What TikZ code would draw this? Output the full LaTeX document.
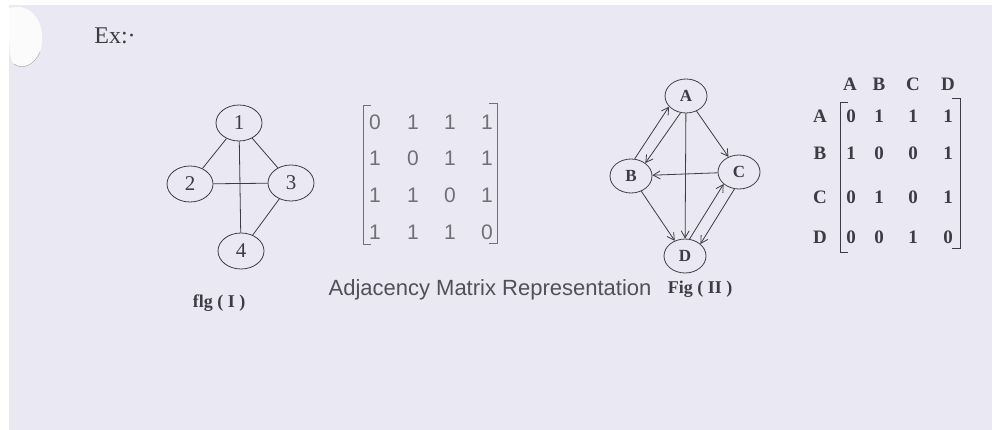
\documentclass[tikz,border=0pt]{standalone}
\usepackage{fontspec}
\setmainfont{Liberation Serif}
\setsansfont{Liberation Sans}
\usetikzlibrary{arrows.meta,shapes.geometric}
\definecolor{paper}{HTML}{EAE8F2}
\definecolor{ink}{HTML}{3C3C44}
\definecolor{grayink}{HTML}{707078}
\tikzset{
  vtx/.style={ellipse,draw=ink,line width=0.8pt,minimum width=46pt,minimum height=36pt,inner sep=0pt,font=\fontsize{21pt}{21pt}\selectfont,text=ink},
  dvtx/.style={ellipse,draw=ink,line width=0.8pt,minimum width=42pt,minimum height=34pt,inner sep=0pt,font=\fontsize{17pt}{17pt}\selectfont\bfseries,text=ink},
  edge/.style={draw=ink,line width=0.8pt},
  arc/.style={draw=ink,line width=0.8pt,-{Straight Barb[length=7pt,width=8pt]}},
  mone/.style={font=\sffamily\fontsize{21pt}{21pt}\selectfont,text=grayink,inner sep=0pt},
  mtwo/.style={font=\fontsize{19pt}{19pt}\selectfont\bfseries,text=ink,inner sep=0pt},
  brk/.style={draw=grayink,line width=0.9pt},
  brk2/.style={draw=ink,line width=0.9pt},
  caption/.style={font=\fontsize{18pt}{18pt}\selectfont\bfseries,text=ink}
}
\begin{document}
\begin{tikzpicture}[x=1pt,y=-1pt]
\useasboundingbox (0,0) rectangle (992,430);
\fill[white] (0,0) rectangle (992,430);
\fill[paper] (9,5) rectangle (992,430);
% white blob at upper left
\fill[white!97!gray] (9,8) .. controls (30,2) and (44,20) .. (42,42) .. controls (40,62) and (28,72) .. (14,64) .. controls (9,60) and (9,40) .. (9,30) -- cycle;
\draw[gray!60,line width=0.6pt] (14,64) .. controls (22,70) and (34,66) .. (40,52);

\node[font=\fontsize{24pt}{24pt}\selectfont,text=ink] (ex) at (115,36) {Ex:·};

% Fig I
\node[vtx] (n1) at (239,123) {1};
\node[vtx] (n2) at (190,184) {2};
\node[vtx] (n3) at (291,183) {3};
\node[vtx] (n4) at (241,251) {4};
\draw[edge] (n1) -- (n2);
\draw[edge] (n1) -- (n3);
\draw[edge] (n1) -- (n4);
\draw[edge] (n2) -- (n3);
\draw[edge] (n3) -- (n4);
\node[caption] (cap1) at (219,303) {flg ( I )};

% Matrix 1
\draw[brk] (371,105) -- (363,105) -- (363,244) -- (371,244);
\draw[brk] (489,103) -- (497,103) -- (497,243) -- (489,243);
\node[mone] (a11) at (375,122) {0};
\node[mone] (a12) at (413,122) {1};
\node[mone] (a13) at (450,122) {1};
\node[mone] (a14) at (487,122) {1};
\node[mone] (a21) at (375,158) {1};
\node[mone] (a22) at (413,158) {0};
\node[mone] (a23) at (450,158) {1};
\node[mone] (a24) at (487,158) {1};
\node[mone] (a31) at (375,195) {1};
\node[mone] (a32) at (413,195) {1};
\node[mone] (a33) at (450,195) {0};
\node[mone] (a34) at (487,195) {1};
\node[mone] (a41) at (375,232) {1};
\node[mone] (a42) at (413,232) {1};
\node[mone] (a43) at (450,232) {1};
\node[mone] (a44) at (487,232) {0};

\node[font=\sffamily\fontsize{22pt}{22pt}\selectfont,text=ink!90] (amr) at (490,290) {Adjacency Matrix Representation};

% Fig II
\node[dvtx] (A) at (686,96) {A};
\node[dvtx] (B) at (631,176) {B};
\node[dvtx] (C) at (739,172) {C};
\node[dvtx] (D) at (685,256) {D};
\draw[arc] (B.78) -- (A.212);
\draw[arc] (A.252) -- (B.42);
\draw[arc] (A) -- (C);
\draw[arc] (A) -- (D);
\draw[arc] (C) -- (B);
\draw[arc] (B) -- (D);
\draw[arc] (D.75) -- (C.218);
\draw[arc] (C.255) -- (D.38);
\node[caption] (cap2) at (700,289) {Fig ( II )};

% Matrix 2
\node[mtwo] (hA) at (850,84) {A};
\node[mtwo] (hB) at (879,84) {B};
\node[mtwo] (hC) at (913,84) {C};
\node[mtwo] (hD) at (948,84) {D};
\node[mtwo] (rA) at (820,116) {A};
\node[mtwo] (rB) at (820,153) {B};
\node[mtwo] (rC) at (820,197) {C};
\node[mtwo] (rD) at (820,237) {D};
\draw[brk2] (848,102) -- (840,102) -- (840,252) -- (848,252);
\draw[brk2] (952,98) -- (960,98) -- (960,248) -- (952,248);
\node[mtwo] (b11) at (851,116) {0};
\node[mtwo] (b12) at (879,116) {1};
\node[mtwo] (b13) at (913,116) {1};
\node[mtwo] (b14) at (948,116) {1};
\node[mtwo] (b21) at (851,153) {1};
\node[mtwo] (b22) at (879,153) {0};
\node[mtwo] (b23) at (913,153) {0};
\node[mtwo] (b24) at (948,153) {1};
\node[mtwo] (b31) at (851,197) {0};
\node[mtwo] (b32) at (879,197) {1};
\node[mtwo] (b33) at (913,197) {0};
\node[mtwo] (b34) at (948,197) {1};
\node[mtwo] (b41) at (851,237) {0};
\node[mtwo] (b42) at (879,237) {0};
\node[mtwo] (b43) at (913,237) {1};
\node[mtwo] (b44) at (948,237) {0};
\end{tikzpicture}
\end{document}
